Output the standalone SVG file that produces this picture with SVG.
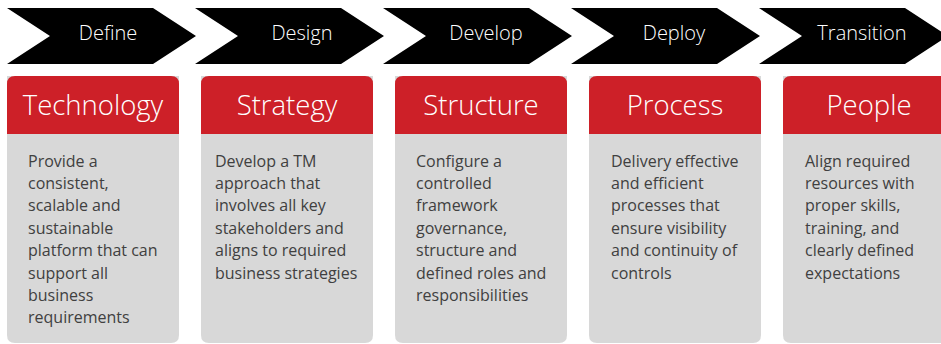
<svg xmlns="http://www.w3.org/2000/svg" width="941" height="344" viewBox="0 0 941 344">
<defs>
<style>
.chev{fill:#000000;}
.chevtxt{font-family:"Open Sans","Liberation Sans",sans-serif;font-weight:300;font-size:20px;fill:#ffffff;text-anchor:middle;}
.body{fill:#d8d8d8;}
.head{fill:#cd2028;}
.headtxt{font-family:"Open Sans","Liberation Sans",sans-serif;font-weight:300;font-size:27.5px;fill:#ffffff;text-anchor:middle;}
.bodytxt{font-family:"Open Sans","Liberation Sans",sans-serif;font-size:16px;fill:#404040;}
</style>
<path id="chevshape" d="M0 0 H146 L189 28 L146 56 H0 L43 28 Z"/>
<path id="cardbody" d="M0 0 H172 V259 Q172 267 164 267 H8 Q0 267 0 259 Z"/>
<path id="cardhead" d="M8 0 H164 Q172 0 172 8 V58 H0 V8 Q0 0 8 0 Z"/>
</defs>

<g id="phases">
<g id="phase-define"><use href="#chevshape" class="chev" x="7" y="8"/><text class="chevtxt" x="108" y="40">Define</text></g>
<g id="phase-design"><use href="#chevshape" class="chev" x="195" y="8"/><text class="chevtxt" x="302" y="40">Design</text></g>
<g id="phase-develop"><use href="#chevshape" class="chev" x="383" y="8"/><text class="chevtxt" x="486" y="40">Develop</text></g>
<g id="phase-deploy"><use href="#chevshape" class="chev" x="571" y="8"/><text class="chevtxt" x="674" y="40">Deploy</text></g>
<g id="phase-transition"><use href="#chevshape" class="chev" x="759" y="8"/><text class="chevtxt" x="862" y="40">Transition</text></g>
</g>

<g id="connectors"></g>

<g id="card-technology">
<use href="#cardbody" class="body" x="7" y="76"/>
<use href="#cardhead" class="head" x="7" y="76"/>
<text class="headtxt" x="93" y="114.5">Technology</text>
<text class="bodytxt" x="28" y="166.5">
<tspan x="28" dy="0">Provide a</tspan>
<tspan x="28" dy="22.4">consistent,</tspan>
<tspan x="28" dy="22.4">scalable and</tspan>
<tspan x="28" dy="22.4">sustainable</tspan>
<tspan x="28" dy="22.4">platform that can</tspan>
<tspan x="28" dy="22.4">support all</tspan>
<tspan x="28" dy="22.4">business</tspan>
<tspan x="28" dy="22.4">requirements</tspan>
</text>
</g>

<g id="card-strategy">
<use href="#cardbody" class="body" x="201" y="76"/>
<use href="#cardhead" class="head" x="201" y="76"/>
<text class="headtxt" x="287" y="114.5">Strategy</text>
<text class="bodytxt" x="215" y="166.5">
<tspan x="215" dy="0">Develop a TM</tspan>
<tspan x="215" dy="22.4">approach that</tspan>
<tspan x="215" dy="22.4">involves all key</tspan>
<tspan x="215" dy="22.4">stakeholders and</tspan>
<tspan x="215" dy="22.4">aligns to required</tspan>
<tspan x="215" dy="22.4">business strategies</tspan>
</text>
</g>

<g id="card-structure">
<use href="#cardbody" class="body" x="395" y="76"/>
<use href="#cardhead" class="head" x="395" y="76"/>
<text class="headtxt" x="481" y="114.5">Structure</text>
<text class="bodytxt" x="416" y="166.5">
<tspan x="416" dy="0">Configure a</tspan>
<tspan x="416" dy="22.4">controlled</tspan>
<tspan x="416" dy="22.4">framework</tspan>
<tspan x="416" dy="22.4">governance,</tspan>
<tspan x="416" dy="22.4">structure and</tspan>
<tspan x="416" dy="22.4">defined roles and</tspan>
<tspan x="416" dy="22.4">responsibilities</tspan>
</text>
</g>

<g id="card-process">
<use href="#cardbody" class="body" x="589" y="76"/>
<use href="#cardhead" class="head" x="589" y="76"/>
<text class="headtxt" x="675" y="114.5">Process</text>
<text class="bodytxt" x="611" y="166.5">
<tspan x="611" dy="0">Delivery effective</tspan>
<tspan x="611" dy="22.4">and efficient</tspan>
<tspan x="611" dy="22.4">processes that</tspan>
<tspan x="611" dy="22.4">ensure visibility</tspan>
<tspan x="611" dy="22.4">and continuity of</tspan>
<tspan x="611" dy="22.4">controls</tspan>
</text>
</g>

<g id="card-people">
<use href="#cardbody" class="body" x="783" y="76"/>
<use href="#cardhead" class="head" x="783" y="76"/>
<text class="headtxt" x="869" y="114.5">People</text>
<text class="bodytxt" x="805" y="166.5">
<tspan x="805" dy="0">Align required</tspan>
<tspan x="805" dy="22.4">resources with</tspan>
<tspan x="805" dy="22.4">proper skills,</tspan>
<tspan x="805" dy="22.4">training, and</tspan>
<tspan x="805" dy="22.4">clearly defined</tspan>
<tspan x="805" dy="22.4">expectations</tspan>
</text>
</g>
</svg>
